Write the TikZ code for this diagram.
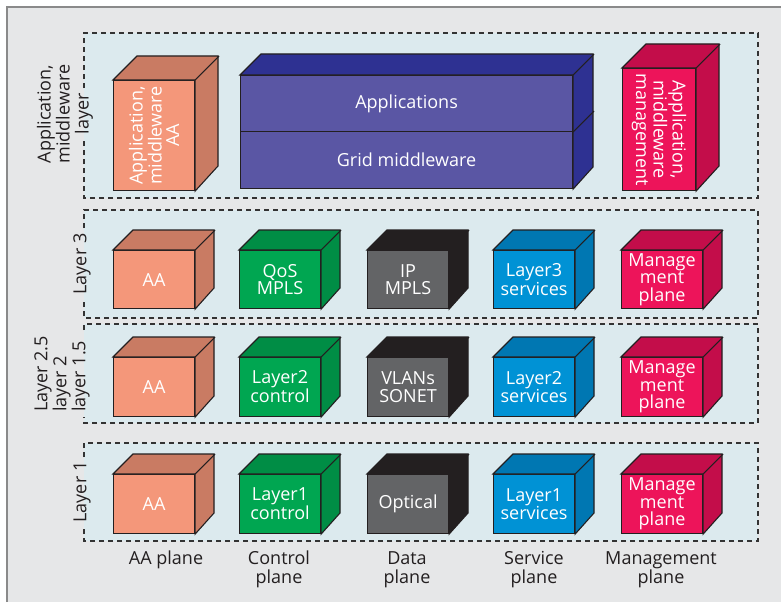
\documentclass[tikz,border=0pt]{standalone}
\usepackage{fontspec}
\setmainfont{Open Sans}

\definecolor{bgcol}{HTML}{E6E7E8}
\definecolor{framecol}{HTML}{8A8A8A}
\definecolor{panelcol}{HTML}{DCEAEE}
\definecolor{dashcol}{HTML}{333333}
\definecolor{inkcol}{HTML}{231F20}
\definecolor{edgecol}{HTML}{231F20}
\definecolor{aaF}{HTML}{F4977A}
\definecolor{aaS}{HTML}{C97B63}
\definecolor{ctF}{HTML}{00A651}
\definecolor{ctS}{HTML}{008D45}
\definecolor{dtF}{HTML}{636466}
\definecolor{dtS}{HTML}{231F20}
\definecolor{svF}{HTML}{0092D5}
\definecolor{svS}{HTML}{0077B2}
\definecolor{mgF}{HTML}{ED145A}
\definecolor{mgS}{HTML}{C30D4A}
\definecolor{apF}{HTML}{5A56A4}
\definecolor{apS}{HTML}{2E3192}

\tikzset{
  panelborder/.style={draw=dashcol, line width=1.1pt, dash pattern=on 5pt off 4pt},
  face/.style={draw=edgecol, line width=1.1pt, line join=miter},
  frontface/.style={face, rectangle, inner sep=0pt, anchor=north west},
  boxtext/.style={text=white, font=\fontsize{18}{17.5}\selectfont, align=center, inner sep=0pt},
  sidelabel/.style={text=inkcol, font=\fontsize{18}{19}\selectfont, inner sep=0pt, rotate=90},
  planelabel/.style={text=inkcol, font=\fontsize{18}{19}\selectfont, align=center, inner sep=0pt, anchor=north},
}

% cube: name, left, top, width, height, depth, colour prefix, text options, text
\newcommand\drawcube[9]{%
  \node[frontface, fill=#7F, minimum width=#4pt, minimum height=#5pt] (#1) at (#2,#3) {};
  \path[face, fill=#7S] (#1.north west) -- ++(#6pt,#6pt) -- ++(#4pt,0pt) -- ++(0pt,-#5pt)
        -- (#1.south east) -- (#1.north east) -- cycle;
  \draw[face] (#1.north east) -- ++(#6pt,#6pt);
  \node[boxtext,#8] (#1-txt) at (#1.center) {#9};
}

\begin{document}
\begin{tikzpicture}[x=1pt, y=-1pt]
\useasboundingbox (0,0) rectangle (781,602);
\fill[white] (0,0) rectangle (781,602);

% outer frame
\fill[bgcol] (7,7) rectangle (781,602);
\draw[framecol, line width=1.5pt] (7,602) -- (7,7) -- (781,7);

% layer panels (left border left open where the side labels sit)
\fill[panelcol] (84,33) rectangle (758,198);
\draw[panelborder] (84,88) -- (84,33) -- (758,33) -- (758,198) -- (84,198) -- (84,141);
\fill[panelcol] (84,210) rectangle (758,318);
\draw[panelborder] (84,228) -- (84,210) -- (758,210) -- (758,318) -- (84,318) -- (84,300);
\fill[panelcol] (84,324) rectangle (758,423);
\draw[panelborder] (84,330) -- (84,324) -- (758,324) -- (758,423) -- (84,423) -- (84,417);
\fill[panelcol] (84,443) rectangle (758,541);
\draw[panelborder] (84,457) -- (84,443) -- (758,443) -- (758,541) -- (84,541) -- (84,527);

% side labels
\node[sidelabel, align=center] (labApp) at (65,114) {Application,\\middleware\\layer};
\node[sidelabel] (labL3) at (82,264) {Layer 3};
\node[sidelabel, align=left] (labL2) at (62,374) {Layer 2.5\\layer 2\\layer 1.5};
\node[sidelabel] (labL1) at (82,492) {Layer 1};

% application / middleware layer
\drawcube{topAA}{113}{80}{81}{110}{24}{aa}{rotate=90}{Application,\\middleware\\AA}
\node[frontface, fill=apF, minimum width=332pt, minimum height=56pt] (apps) at (240,75) {};
\node[frontface, fill=apF, minimum width=332pt, minimum height=57pt] (grid) at (240,131) {};
\path[face, fill=apS] (apps.north west) -- ++(21pt,21pt) -- ++(332pt,0pt) -- ++(0pt,-113pt)
      -- (grid.south east) -- (apps.north east) -- cycle;
\draw[face] (apps.north east) -- ++(21pt,21pt);
\draw[face] (apps.south east) -- ++(21pt,21pt);
\node[boxtext] (apps-txt) at (apps.center) {Applications};
\node[boxtext] (grid-txt) at (grid.center) {Grid middleware};
\drawcube{topMg}{622}{68}{73}{122}{24}{mg}{rotate=-90}{Application,\\middleware\\management}

% layer 3
\drawcube{l3aa}{113}{250}{81}{58}{20}{aa}{}{AA}
\drawcube{l3ct}{239}{250}{81}{58}{20}{ct}{}{QoS\\MPLS}
\drawcube{l3dt}{367}{250}{81}{58}{20}{dt}{}{IP\\MPLS}
\drawcube{l3sv}{493}{250}{81}{58}{20}{sv}{}{Layer3\\services}
\drawcube{l3mg}{621}{250}{81}{58}{20}{mg}{}{Manage\\ment\\plane}

% layer 2.5 / 2 / 1.5
\drawcube{l2aa}{113}{357}{81}{59}{20}{aa}{}{AA}
\drawcube{l2ct}{239}{357}{81}{59}{20}{ct}{}{Layer2\\control}
\drawcube{l2dt}{367}{357}{81}{59}{20}{dt}{}{VLANs\\SONET}
\drawcube{l2sv}{493}{357}{81}{59}{20}{sv}{}{Layer2\\services}
\drawcube{l2mg}{621}{357}{81}{59}{20}{mg}{}{Manage\\ment\\plane}

% layer 1
\drawcube{l1aa}{113}{474}{81}{59}{20}{aa}{}{AA}
\drawcube{l1ct}{239}{474}{81}{59}{20}{ct}{}{Layer1\\control}
\drawcube{l1dt}{367}{474}{81}{59}{20}{dt}{}{Optical}
\drawcube{l1sv}{493}{474}{81}{59}{20}{sv}{}{Layer1\\services}
\drawcube{l1mg}{621}{474}{81}{59}{20}{mg}{}{Manage\\ment\\plane}

% plane labels
\node[planelabel] (plAA) at (166,551) {AA plane};
\node[planelabel] (plCt) at (279,551) {Control\\plane};
\node[planelabel] (plDt) at (407,551) {Data\\plane};
\node[planelabel] (plSv) at (534,551) {Service\\plane};
\node[planelabel] (plMg) at (661,551) {Management\\plane};
\end{tikzpicture}
\end{document}
